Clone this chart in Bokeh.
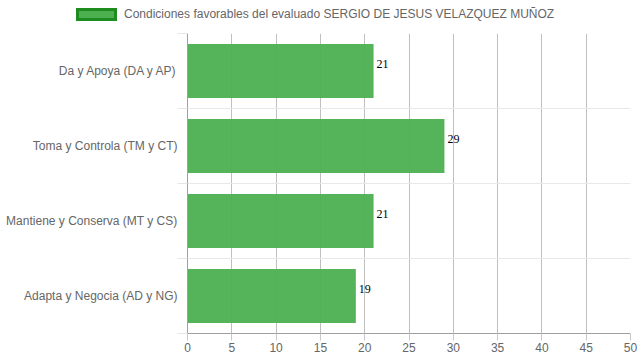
from bokeh.plotting import figure
from bokeh.layouts import column
from bokeh.models import (Range1d, FixedTicker, ColumnDataSource, LabelSet, Div)
from bokeh.embed import file_html
from bokeh.resources import INLINE
from bokeh.core.properties import value

categories = ["Da y Apoya (DA y AP)", "Toma y Controla (TM y CT)",
              "Mantiene y Conserva (MT y CS)", "Adapta y Negocia (AD y NG)"]
values = [21, 29, 21, 19]
x_ticks = [0, 5, 10, 15, 20, 25, 30, 35, 40, 45, 50]
series_name = "Condiciones favorables del evaluado SERGIO DE JESUS VELAZQUEZ MUÑOZ"

n = len(categories)
centers = [n - i - 0.5 for i in range(n)]
bounds = [float(i) for i in range(n + 1)]

FONT = "Liberation Sans"
TXT = "#666666"
BAR = "#4CAF50"
BAR_EDGE = "#1E8C1E"

src = ColumnDataSource(dict(y=centers, v=values, lab=[str(v) for v in values]))

# ---- legend strip on top (HTML legend) ----
legend_html = (
    '<div style="position:relative;width:639px;height:33px;margin:0;padding:0;">'
    f'<span style="position:absolute;left:76px;top:8px;width:41px;height:13px;'
    f'box-sizing:border-box;background:{BAR};border:3px solid {BAR_EDGE};"></span>'
    f'<span style="position:absolute;left:124px;top:7px;font-family:\'{FONT}\';'
    f'font-size:12px;line-height:15px;color:{TXT};white-space:nowrap;">{series_name}</span>'
    '</div>'
)
top = Div(text=legend_html, width=639, height=33, margin=0)

# ---- main chart ----
p = figure(width=639, height=327, output_backend="svg", toolbar_location=None,
           x_range=Range1d(0, 50), y_range=Range1d(0, n),
           min_border_left=187, min_border_right=9, min_border_top=0,
           min_border_bottom=27)
p.outline_line_color = None

p.hbar(y="y", right="v", left=0, height=0.72, source=src,
       fill_color=BAR, fill_alpha=0.95, line_color=None)

labels = LabelSet(x="v", y="y", text="lab", source=src, x_offset=3, y_offset=7,
                  text_font=value("Liberation Serif"), text_font_size="12px",
                  text_color="#000000", text_baseline="middle", text_align="left")
p.add_layout(labels)

xa = p.xaxis[0]
xa.ticker = FixedTicker(ticks=x_ticks)
xa.major_tick_out = 7
xa.major_tick_in = 0
xa.minor_tick_out = 0
xa.minor_tick_in = 0
xa.major_tick_line_color = "#c8c8c8"
xa.axis_line_color = "#a0a0a0"
xa.major_label_text_font = FONT
xa.major_label_text_font_size = "12px"
xa.major_label_text_color = TXT
xa.major_label_standoff = 2

ya = p.yaxis[0]
ya.ticker = FixedTicker(ticks=centers, minor_ticks=bounds)
ya.major_label_overrides = {c: lab for c, lab in zip(centers, categories)}
ya.major_tick_out = 0
ya.major_tick_in = 0
ya.minor_tick_out = 10
ya.minor_tick_in = 0
ya.minor_tick_line_color = "#e6e6e6"
ya.axis_line_color = "#a0a0a0"
ya.major_label_text_font = FONT
ya.major_label_text_font_size = "12px"
ya.major_label_text_color = TXT
ya.major_label_standoff = 0

p.xgrid.ticker = FixedTicker(ticks=x_ticks)
p.xgrid.grid_line_color = "#c0c0c0"
p.ygrid.ticker = FixedTicker(ticks=bounds)
p.ygrid.grid_line_color = "#e8e8e8"

layout = column(top, p, spacing=0)
open("out.html", "w").write(file_html(layout, INLINE))
